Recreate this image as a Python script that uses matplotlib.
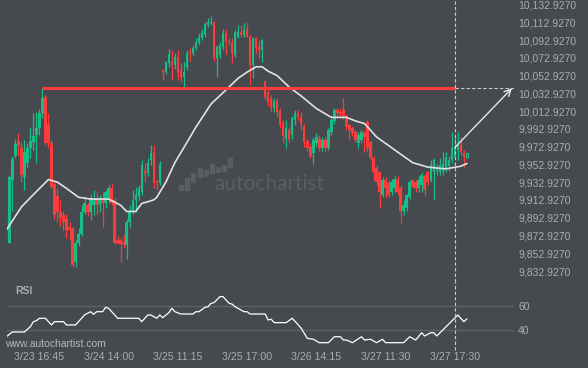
import matplotlib
matplotlib.use('Agg')
import matplotlib.pyplot as plt
from matplotlib.patches import Rectangle
import numpy as np

plt.rcParams['font.family'] = ['Liberation Sans', 'DejaVu Sans']

# ---------------- data ----------------
opens = [
    9893, 9865, 9935, 9963, 9979, 9972, 9939, 9955, 9972, 9978,
    9986, 9994, 10011, 10029, 9999, 9977, 9931, 9917, 9899, 9896,
    9892, 9883, 9881, 9843, 9865, 9875, 9899, 9907, 9899, 9907,
    9915, 9908, 9914, 9909, 9914, 9926, 9913, 9868, 9868, 9866,
    9862, 9888, 9901, 9913, 9916, 9922, 9946, 9943, 9958, 9966,
    9934, 9932, 10059, 10057, 10067, 10068, 10065, 10074, 10059, 10052,
    10063, 10078, 10078, 10084, 10090, 10095, 10099, 10110, 10112, 10113,
    10073, 10076, 10085, 10101, 10092, 10090, 10076, 10097, 10102, 10099,
    10106, 10096, 10065, 10095, 10086, 10082, 10046, 10033, 10028, 10016,
    10025, 10014, 10001, 9982, 9992, 9986, 10003, 10011, 10006, 9996,
    9979, 9973, 9966, 9977, 9982, 9971, 9980, 9971, 9989, 10002,
    10014, 10012, 10014, 10007, 9997, 9994, 9989, 9977, 9980, 9988,
    10001, 9978, 9960, 9949, 9944, 9918, 9935, 9932, 9922, 9926,
    9935, 9926, 9901, 9904, 9916, 9935, 9933, 9926, 9930, 9940,
    9944, 9935, 9944, 9946, 9944, 9946, 9949, 9951, 9958, 9961,
    9969, 9975, 9966, 9961]
highs = [
    9896, 9941, 9963, 9982, 9988, 9978, 9980, 9977, 9995, 10011,
    10012, 10015, 10039, 10031, 10011, 9980, 9933, 9926, 9913, 9901,
    9897, 9888, 9883, 9868, 9881, 9907, 9917, 9910, 9920, 9924,
    9922, 9919, 9922, 9924, 9930, 9931, 9915, 9872, 9870, 9873,
    9892, 9907, 9924, 9928, 9930, 9958, 9955, 9960, 9975, 9975,
    9937, 9957, 10061, 10070, 10083, 10082, 10079, 10082, 10067, 10068,
    10082, 10084, 10087, 10095, 10101, 10106, 10113, 10118, 10120, 10115,
    10087, 10091, 10106, 10106, 10095, 10095, 10104, 10110, 10110, 10112,
    10113, 10099, 10097, 10097, 10093, 10094, 10048, 10037, 10031, 10028,
    10028, 10017, 10003, 10003, 9995, 10008, 10014, 10014, 10012, 9998,
    9982, 9977, 9984, 9988, 9986, 9984, 9984, 9994, 10005, 10016,
    10016, 10017, 10028, 10010, 9999, 9996, 9992, 9989, 9992, 9992,
    10003, 9980, 9963, 9952, 9946, 9939, 9939, 9935, 9937, 9941,
    9940, 9930, 9913, 9920, 9935, 9937, 9935, 9940, 9944, 9942,
    9946, 9958, 9960, 9954, 9960, 9967, 9967, 9963, 9989, 9984,
    9989, 9984, 9969, 9967]
lows = [
    9868, 9864, 9901, 9960, 9963, 9933, 9924, 9949, 9960, 9969,
    9955, 9986, 10005, 9975, 9971, 9926, 9892, 9888, 9884, 9879,
    9870, 9868, 9837, 9838, 9861, 9872, 9897, 9895, 9890, 9896,
    9897, 9899, 9883, 9904, 9910, 9907, 9863, 9863, 9843, 9859,
    9847, 9883, 9897, 9899, 9913, 9918, 9933, 9940, 9952, 9926,
    9924, 9930, 10048, 10055, 10063, 10048, 10061, 10048, 10046, 10040,
    10059, 10070, 10075, 10082, 10087, 10093, 10096, 10108, 10110, 10070,
    10051, 10073, 10082, 10076, 10087, 10067, 10074, 10095, 10096, 10096,
    10096, 10042, 10050, 10079, 10073, 10068, 10026, 10019, 10012, 10012,
    10006, 9994, 9977, 9971, 9978, 9982, 9997, 10003, 9992, 9973,
    9968, 9960, 9954, 9973, 9968, 9968, 9967, 9969, 9986, 9999,
    10007, 10006, 10004, 9992, 9980, 9985, 9978, 9971, 9977, 9967,
    9967, 9958, 9935, 9930, 9904, 9916, 9915, 9916, 9918, 9922,
    9918, 9887, 9896, 9901, 9914, 9926, 9922, 9922, 9922, 9917,
    9930, 9933, 9913, 9941, 9941, 9941, 9944, 9946, 9955, 9960,
    9958, 9964, 9950, 9960]
closes = [
    9870, 9939, 9959, 9976, 9975, 9941, 9967, 9972, 9979, 9985,
    9994, 10011, 10028, 9977, 9977, 9928, 9896, 9899, 9893, 9888,
    9879, 9879, 9840, 9864, 9875, 9899, 9910, 9899, 9915, 9915,
    9907, 9914, 9909, 9922, 9926, 9910, 9865, 9865, 9863, 9863,
    9888, 9901, 9913, 9918, 9926, 9952, 9942, 9955, 9966, 9932,
    9932, 9954, 10057, 10068, 10077, 10065, 10074, 10056, 10050, 10057,
    10079, 10077, 10084, 10091, 10096, 10101, 10111, 10113, 10114, 10073,
    10085, 10087, 10101, 10091, 10091, 10078, 10102, 10102, 10099, 10104,
    10096, 10065, 10095, 10084, 10082, 10093, 10029, 10022, 10016, 10025,
    10012, 9997, 9985, 9994, 9982, 10005, 10011, 10006, 9998, 9978,
    9971, 9963, 9980, 9984, 9971, 9980, 9972, 9992, 10003, 10014,
    10011, 10010, 10007, 9995, 9992, 9988, 9981, 9986, 9989, 9984,
    9971, 9960, 9944, 9933, 9922, 9935, 9927, 9918, 9933, 9937,
    9922, 9901, 9907, 9918, 9933, 9928, 9926, 9935, 9941, 9924,
    9933, 9952, 9958, 9949, 9952, 9954, 9961, 9958, 9971, 9972,
    9975, 9967, 9961, 9966]
first_index = -1

ma_k = [-1, 4, 8, 13, 16, 19, 23, 27, 33, 37, 39, 42, 44, 48, 49, 52, 55, 58, 62, 67,
        72, 76, 79, 82, 84, 86, 89, 93, 97, 102, 107, 112, 115, 118, 122, 129, 134, 139, 145, 150, 152]
ma_v = [9879, 9905, 9919, 9936, 9933, 9926, 9916, 9914, 9914, 9907, 9900, 9900, 9909, 9913, 9916,
        9933, 9955, 9972, 9995, 10021, 10037, 10050, 10057, 10063, 10063, 10058, 10053, 10040,
        10030, 10016, 10006, 10006, 10002, 9999, 9984, 9967, 9955, 9950, 9948, 9951, 9954]

rsi_k = [-1, 1, 5, 7, 8, 9, 10, 12, 14, 15, 18, 19, 22, 25, 26, 27, 28, 29, 31, 32,
         33, 36, 43, 44, 46, 47, 49, 50, 51, 53, 54, 55, 57, 61, 62, 63, 65, 66, 67, 68,
         70, 71, 73, 74, 75, 78, 79, 80, 85, 86, 87, 88, 92, 94, 96, 97, 99, 101, 103, 106,
         108, 110, 111, 112, 114, 117, 118, 120, 122, 124, 125, 131, 133, 135, 137, 138, 140,
         141, 142, 144, 149, 151, 152]
rsi_v = [34.7, 38.6, 38.6, 43.0, 47.1, 47.9, 49.9, 49.9, 44.4, 47.1, 47.1, 44.4, 44.4, 52.6,
         54.0, 55.3, 53.2, 55.3, 55.3, 58.9, 58.1, 49.9, 49.9, 47.1, 52.6, 52.6, 49.9, 52.6,
         50.4, 54.5, 58.1, 55.3, 53.4, 53.4, 55.3, 55.3, 58.9, 59.4, 62.2, 62.7, 67.7, 67.7,
         62.2, 61.6, 59.4, 55.3, 55.3, 53.4, 53.4, 48.5, 49.1, 46.3, 46.3, 49.9, 44.4, 41.6,
         33.4, 32.6, 29.8, 29.8, 34.7, 34.7, 32.0, 32.0, 29.8, 34.7, 32.0, 32.6, 29.8, 32.6,
         29.8, 29.8, 34.7, 32.0, 38.0, 35.3, 38.0, 38.0, 35.3, 40.2, 52.6, 47.1, 49.3]

resistance_level = 10038.9
resistance_start = 11
signal_index = 148
arrow_target_index = 167

xtick_index = [10, 33, 56, 79, 102, 125, 148]
xtick_labels = ['3/23 16:45', '3/24 14:00', '3/25 11:15', '3/25 17:00',
                '3/26 14:15', '3/27 11:30', '3/27 17:30']
price_ticks = [9832.927, 9852.927, 9872.927, 9892.927, 9912.927, 9932.927, 9952.927,
               9972.927, 9992.927, 10012.927, 10032.927, 10052.927, 10072.927,
               10092.927, 10112.927, 10132.927]
rsi_ticks = [40, 60]

# ---------------- style ----------------
BG = '#46494e'
TXT = '#a9adb1'
GREEN = '#17bd86'
RED = '#fb3c3c'
GRID = '#5d625f'
LINE = '#e2e2e2'

W, H = 588, 368
fig = plt.figure(figsize=(W / 100, H / 100), dpi=100, facecolor=BG)


def box(x0, y0, x1, y1):
    return [x0 / W, 1 - y1 / H, (x1 - x0) / W, (y1 - y0) / H]


ax = fig.add_axes(box(6.7, 0, 514, 282))
rax = fig.add_axes(box(6.7, 282, 514, 344), sharex=ax)
for a in (ax, rax):
    a.set_facecolor(BG)
    for s in a.spines.values():
        s.set_visible(False)
    a.tick_params(length=0)

ax.set_xlim(-0.864, 167.67)
ax.set_ylim(9820.55, 10138.22)
rax.set_ylim(28.72, 79.75)

# candles
o = np.array(opens, float)
hi = np.array(highs, float)
lo = np.array(lows, float)
c = np.array(closes, float)
k = np.arange(first_index, first_index + len(o))
up = c >= o
cols = np.where(up, GREEN, RED)
ax.vlines(k, lo, hi, colors=cols, lw=0.9, zorder=2)
body_h = np.maximum(np.abs(c - o), 1.0)
body_b = np.minimum(o, c)
ax.bar(k[:-1], body_h[:-1], bottom=body_b[:-1], width=0.8, color=cols[:-1],
       linewidth=0, zorder=3)
ax.bar(k[-1:], body_h[-1:], bottom=body_b[-1:], width=0.8, color=BG,
       edgecolor=GREEN, linewidth=0.8, zorder=3)

# moving average
ax.plot(ma_k, ma_v, color=LINE, lw=1.2, zorder=4, solid_capstyle='round')

# resistance line and projection
ax.hlines(resistance_level, resistance_start, signal_index, color=RED, lw=2.2, zorder=5)
ax.hlines(resistance_level, signal_index, 167.67, color='#cdcdcd', lw=0.8,
          linestyles=(0, (3, 2)), zorder=5)
ax.axvline(signal_index, color='#cdcdcd', lw=0.8, ls=(0, (3, 2)), zorder=5)
rax.axvline(signal_index, ymin=-0.1, ymax=1, color='#cdcdcd', lw=0.8,
            ls=(0, (3, 2)), clip_on=False, zorder=5)
ax.annotate('', xy=(arrow_target_index, resistance_level),
            xytext=(signal_index, closes[signal_index - first_index]),
            arrowprops=dict(arrowstyle='->', color='#e6e6e6', lw=1.0,
                            mutation_scale=12, shrinkA=0, shrinkB=0), zorder=6)

# axis labels
ax.yaxis.tick_right()
ax.set_yticks(price_ticks)
ax.set_yticklabels([f'{v:,.4f}' for v in price_ticks])
ax.tick_params(axis='y', pad=3, labelsize=7.5, labelcolor=TXT)
ax.tick_params(axis='x', labelbottom=False)

rax.yaxis.tick_right()
rax.set_yticks(rsi_ticks)
rax.set_yticklabels([str(v) for v in rsi_ticks])
rax.tick_params(axis='y', pad=3, labelsize=7.5, labelcolor=TXT)
rax.set_xticks(xtick_index)
rax.set_xticklabels(xtick_labels)
rax.tick_params(axis='x', pad=5.5, labelsize=7.7, labelcolor=TXT)

# RSI
for v in rsi_ticks:
    rax.axhline(v, color=GRID, lw=1.0, zorder=1)
rax.plot(rsi_k, rsi_v, color='white', lw=0.9, zorder=3)
rax.text((15 - 6.7) / 507.3, (344 - 291) / 62, 'RSI', transform=rax.transAxes,
         fontsize=7.5, fontweight='bold', color=TXT, va='center', ha='left')

fig.text(5 / W, 1 - 344 / H, 'www.autochartist.com', fontsize=7.5, color='#b4b7ba',
         va='center', ha='left')

# watermark
WM = '#5a5e63'
fig.text(214 / W, 1 - 190 / H, 'autochartist', fontsize=15, color=WM,
         family=['Lato', 'DejaVu Sans'], va='baseline', ha='left', zorder=1)
bars = [(181, 185, 190), (187, 178, 190), (193, 173, 182), (200, 168, 177), (206, 170, 176),
        (212, 164, 173), (218, 167, 172), (224, 165, 171), (230, 158, 167)]
for bx, bt, bb in bars:
    fig.patches.append(Rectangle(((bx - 2) / W, 1 - bb / H), 4 / W, (bb - bt) / H,
                                 transform=fig.transFigure, color=WM, zorder=0))

fig.savefig('out.png', dpi=100, facecolor=BG)
